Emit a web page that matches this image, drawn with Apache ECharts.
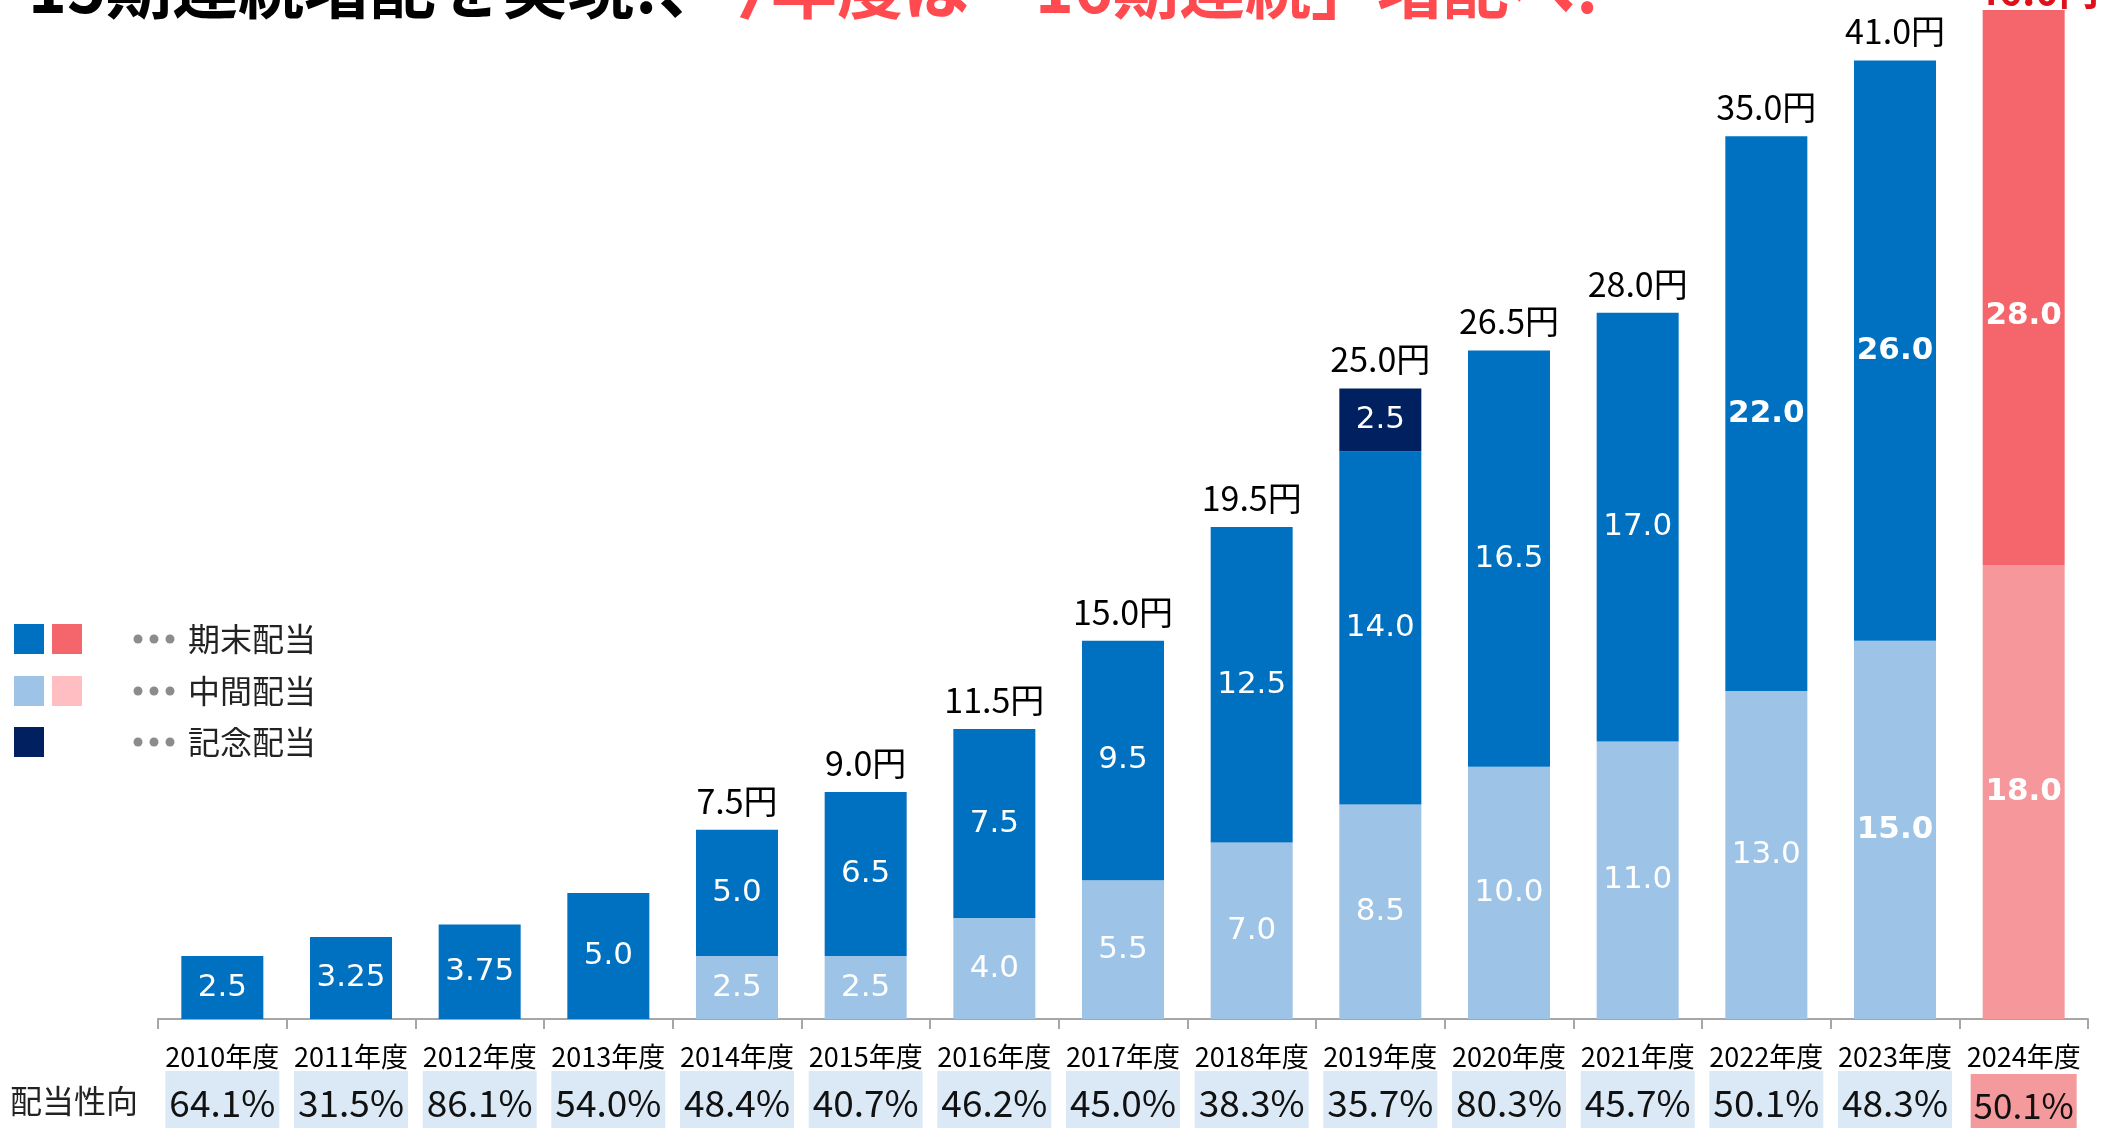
<!DOCTYPE html>
<html>
<head>
<meta charset="utf-8">
<script src="https://cdn.jsdelivr.net/npm/echarts@6/dist/echarts.min.js"></script>
<style>
  html, body { margin: 0; padding: 0; background: #fff; }
  #chart { width: 2105px; height: 1128px; }
</style>
</head>
<body>
<div id="chart"></div>
<script>
// 年度ごとの配当（円）
const categories = ['2010年度', '2011年度', '2012年度', '2013年度', '2014年度', '2015年度', '2016年度', '2017年度',
  '2018年度', '2019年度', '2020年度', '2021年度', '2022年度', '2023年度', '2024年度'];
const interimDiv = [0, 0, 0, 0, 2.5, 2.5, 4.0, 5.5, 7.0, 8.5, 10.0, 11.0, 13.0, 15.0, 18.0];
const yearEndDiv = [2.5, 3.25, 3.75, 5.0, 5.0, 6.5, 7.5, 9.5, 12.5, 14.0, 16.5, 17.0, 22.0, 26.0, 28.0];
const commemorativeDiv = [0, 0, 0, 0, 0, 0, 0, 0, 0, 2.5, 0, 0, 0, 0, 0];
const totalDiv = [2.5, 3.25, 3.75, 5.0, 7.5, 9.0, 11.5, 15.0, 19.5, 25.0, 26.5, 28.0, 35.0, 41.0, 46.0];
const payoutRatio = ['64.1%', '31.5%', '86.1%', '54.0%', '48.4%', '40.7%', '46.2%', '45.0%', '38.3%', '35.7%',
  '80.3%', '45.7%', '50.1%', '48.3%', '50.1%'];

const BLUE = '#0070C0';
const LIGHT_BLUE = '#9DC3E6';
const NAVY = '#002060';
const RED = '#F4666C';
const PINK = '#F5979B';
const NUM_FONT = '"DejaVu Sans", Verdana, sans-serif';
const NARROW_FONT = '"Liberation Sans Narrow", "Noto Sans CJK JP", sans-serif';
const JP_FONT = '"Noto Sans CJK JP", sans-serif';
const LAST = categories.length - 1;

const fmt = v => (v === 0 ? '' : (Number.isInteger(v * 10) ? v.toFixed(1) : String(v)));

const segLabel = {
  show: true,
  position: 'inside',
  color: '#fff',
  fontSize: 31,
  fontFamily: NUM_FONT,
  formatter: p => fmt(p.value)
};

const interimData = interimDiv.map((v, i) => ({
  value: v,
  itemStyle: i === LAST ? { color: PINK } : undefined,
  label: i >= 13 ? { fontWeight: 'bold' } : undefined
}));
const yearEndData = yearEndDiv.map((v, i) => ({
  value: v,
  itemStyle: i === LAST ? { color: RED } : undefined,
  label: i >= 12 ? { fontWeight: 'bold', offset: i === LAST ? [0, 28] : [0, 0] } : undefined
}));

const chart = echarts.init(document.getElementById('chart'));

// 凡例（手描き）
const legendRows = [
  { y: 639, colors: [BLUE, RED], text: '期末配当' },
  { y: 691, colors: [LIGHT_BLUE, '#FFBFC2'], text: '中間配当' },
  { y: 742, colors: [NAVY], text: '記念配当' }
];
const legendGraphic = [];
legendRows.forEach(row => {
  row.colors.forEach((c, k) => {
    legendGraphic.push({ type: 'rect', shape: { x: 14 + k * 38, y: row.y - 15, width: 30, height: 30 }, style: { fill: c } });
  });
  [138, 154, 170].forEach(cx => {
    legendGraphic.push({ type: 'circle', shape: { cx: cx, cy: row.y, r: 4.5 }, style: { fill: '#8C8C8C' } });
  });
  legendGraphic.push({
    type: 'text', x: 188, y: row.y,
    style: { text: row.text, fontSize: 32, fontFamily: JP_FONT, fill: '#222', verticalAlign: 'middle' }
  });
});

const option = {
  animation: false,
  backgroundColor: '#fff',
  grid: { left: 158, right: 17, top: 10, bottom: 109, outerBoundsMode: 'none' },
  xAxis: [
    {
      type: 'category',
      data: categories,
      axisLine: { lineStyle: { color: '#A6A6A6', width: 2 } },
      axisTick: { show: true, length: 10, lineStyle: { color: '#A6A6A6', width: 2 } },
      axisLabel: { interval: 0, color: '#000', fontSize: 27, fontFamily: NARROW_FONT, margin: 24 }
    },
    {
      type: 'category',
      data: categories,
      position: 'bottom',
      offset: 0,
      axisLine: { show: false },
      axisTick: { show: false },
      axisLabel: {
        interval: 0,
        margin: 52,
        formatter: (v, i) => (i === LAST ? `{p|${payoutRatio[i]}}` : `{b|${payoutRatio[i]}}`),
        rich: {
          b: {
            backgroundColor: '#DAE9F5', width: 114, height: 64, lineHeight: 64, align: 'center',
            fontSize: 37, fontFamily: NARROW_FONT, color: '#111'
          },
          p: {
            backgroundColor: '#F4999C', width: 106, height: 64, lineHeight: 70, align: 'center',
            fontSize: 35, fontFamily: NARROW_FONT, color: '#111'
          }
        }
      }
    }
  ],
  yAxis: {
    type: 'value',
    show: false,
    min: 0,
    max: 43,
    // 元の資料では上端付近の棒が詰めて描かれているため、軸を途中で省略
    breaks: [{ start: 35, end: 38, gap: 0 }],
    breakArea: { show: false }
  },
  series: [
    {
      name: '中間配当', type: 'bar', stack: 'div', barWidth: 82,
      itemStyle: { color: LIGHT_BLUE },
      label: segLabel,
      data: interimData
    },
    {
      name: '期末配当', type: 'bar', stack: 'div', barWidth: 82,
      itemStyle: { color: BLUE },
      label: segLabel,
      data: yearEndData
    },
    {
      name: '記念配当', type: 'bar', stack: 'div', barWidth: 82,
      itemStyle: { color: NAVY },
      label: segLabel,
      data: commemorativeDiv
    },
    {
      name: '合計', type: 'bar', stack: 'div', barWidth: 82,
      itemStyle: { color: 'transparent' },
      label: {
        show: true, position: 'top', distance: 12, color: '#000',
        fontSize: 34, fontFamily: NARROW_FONT,
        formatter: p => (p.dataIndex >= 4 ? totalDiv[p.dataIndex].toFixed(1) + '円' : '')
      },
      data: totalDiv.map(() => 0)
    }
  ],
  graphic: [
    {
      type: 'text', x: 28, y: 21,
      style: { text: '15期連続増配を実現!、', fontSize: 66, fontWeight: 'bold', fontFamily: JP_FONT, fill: '#000', verticalAlign: 'bottom' }
    },
    {
      type: 'text', x: 705, y: 21,
      style: { text: '今年度は「16期連続」増配へ!', fontSize: 66, fontWeight: 'bold', fontFamily: JP_FONT, fill: '#FF4B50', verticalAlign: 'bottom' }
    },
    {
      type: 'text', x: 1975, y: 10,
      style: { text: '46.0円', fontSize: 40, fontWeight: 'bold', fontFamily: JP_FONT, fill: '#E0101A', verticalAlign: 'bottom' }
    },
    {
      type: 'text', x: 10, y: 1101,
      style: { text: '配当性向', fontSize: 32, fontFamily: JP_FONT, fill: '#222', verticalAlign: 'middle' }
    }
  ].concat(legendGraphic)
};

chart.setOption(option);
</script>
</body>
</html>
